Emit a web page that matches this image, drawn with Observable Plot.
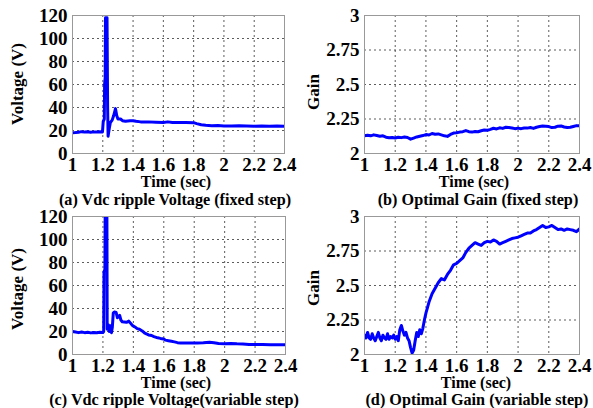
<!DOCTYPE html>
<html>
<head>
<meta charset="utf-8">
<script src="https://cdn.jsdelivr.net/npm/d3@7"></script>
<script src="https://cdn.jsdelivr.net/npm/@observablehq/plot@0.6"></script>
<style>
  html, body { margin: 0; padding: 0; background: #fff; }
  #page { position: relative; width: 593px; height: 408px; overflow: hidden; background: #fff;
          font-family: "Liberation Serif", "Times New Roman", serif; font-weight: bold; color: #000; }
  .panel { position: absolute; }
  .lbl { position: absolute; white-space: nowrap; font-size: 16px; line-height: 1; transform: translate(-50%, -50%); }
  .cap { position: absolute; white-space: nowrap; font-size: 16.2px; line-height: 1; transform: translate(-50%, -50%); }
  .ylbl { position: absolute; white-space: nowrap; font-size: 17px; line-height: 1; transform: translate(-50%, -50%) rotate(-90deg); }
</style>
</head>
<body>
<div id="page"></div>
<script>
// ---------- data ----------
const xTicks = [1, 1.2, 1.4, 1.6, 1.8, 2, 2.2, 2.4];
const voltTicks = [0, 20, 40, 60, 80, 100, 120];
const gainTicks = [2, 2.25, 2.5, 2.75, 3];

const timeA = [1.00,1.02,1.04,1.06,1.08,1.10,1.12,1.14,1.16,1.18,1.198,1.203,1.210,1.212,1.216,1.218,1.228,1.232,1.235,1.243,1.250,1.262,1.272,1.284,1.292,1.300,1.317,1.330,1.35,1.38,1.40,1.42,1.45,1.50,1.55,1.60,1.63,1.66,1.70,1.75,1.80,1.82,1.85,1.88,1.92,1.96,2.00,2.05,2.10,2.15,2.20,2.25,2.30,2.35,2.40];
const voltA = [18,18.2,18.5,19,18.6,18.9,18.5,18.8,18.6,18.9,18.8,28,30,60,66,118,118,40,15,22,27,29,33,39,33,30,30,28.5,28,28.5,28.5,28,27.5,27.5,27.2,27,27.5,27,27,27,26.8,26,25,24.5,24.2,24.3,24,24,24.2,24,23.8,24,23.8,24,23.7];

const timeB = [1.00,1.02,1.04,1.06,1.08,1.10,1.12,1.14,1.16,1.18,1.20,1.22,1.24,1.26,1.28,1.30,1.32,1.34,1.36,1.38,1.40,1.42,1.44,1.46,1.48,1.50,1.52,1.54,1.56,1.58,1.60,1.62,1.64,1.66,1.68,1.70,1.72,1.74,1.76,1.78,1.80,1.82,1.84,1.86,1.88,1.90,1.92,1.94,1.96,1.98,2.00,2.02,2.04,2.06,2.08,2.10,2.12,2.14,2.16,2.18,2.20,2.22,2.24,2.26,2.28,2.30,2.32,2.34,2.36,2.38,2.40];
const gainB = [2.128,2.132,2.128,2.135,2.130,2.125,2.128,2.118,2.114,2.116,2.112,2.118,2.115,2.120,2.116,2.104,2.112,2.120,2.125,2.130,2.137,2.134,2.145,2.140,2.142,2.135,2.128,2.124,2.138,2.148,2.150,2.155,2.158,2.166,2.158,2.155,2.160,2.158,2.165,2.170,2.168,2.175,2.183,2.178,2.186,2.182,2.190,2.188,2.185,2.180,2.184,2.180,2.185,2.184,2.188,2.182,2.190,2.196,2.200,2.198,2.195,2.188,2.190,2.198,2.200,2.192,2.188,2.190,2.196,2.202,2.200];

const timeC = [1.00,1.02,1.04,1.06,1.08,1.10,1.12,1.14,1.16,1.18,1.20,1.205,1.207,1.213,1.215,1.226,1.228,1.235,1.242,1.250,1.256,1.262,1.268,1.275,1.287,1.295,1.300,1.310,1.318,1.327,1.340,1.355,1.370,1.380,1.392,1.410,1.425,1.440,1.458,1.475,1.50,1.52,1.535,1.56,1.578,1.60,1.611,1.63,1.65,1.67,1.69,1.71,1.74,1.78,1.82,1.86,1.90,1.93,1.96,2.00,2.04,2.08,2.12,2.16,2.20,2.25,2.30,2.35,2.40];
const voltC = [20,19.5,19,19.5,19,19.3,18.8,19.2,18.9,19.3,19.2,20,72,74,130,130,22,26,20,25,19,24,36,37,36.5,32,33,34,30,28.5,28.3,28,29,27.5,25.5,24,22.5,22,20.5,18.5,17,16.5,15.5,14.5,14,13.5,12.5,12,11.5,11,10.3,10,10,10,10,10.2,10.6,10.2,9.6,9.4,9.6,9.3,9.2,8.8,8.7,8.6,8.5,8.4,8.4];

const timeD = [1.00,1.01,1.02,1.03,1.04,1.05,1.06,1.07,1.08,1.09,1.10,1.11,1.12,1.13,1.14,1.15,1.16,1.17,1.18,1.19,1.20,1.21,1.22,1.23,1.24,1.25,1.26,1.27,1.28,1.29,1.30,1.31,1.32,1.33,1.34,1.35,1.36,1.37,1.38,1.39,1.40,1.41,1.42,1.44,1.46,1.48,1.50,1.52,1.54,1.56,1.58,1.60,1.62,1.64,1.66,1.68,1.70,1.72,1.74,1.76,1.78,1.80,1.82,1.84,1.86,1.88,1.90,1.92,1.94,1.96,1.98,2.00,2.02,2.04,2.06,2.08,2.10,2.12,2.14,2.16,2.18,2.20,2.22,2.24,2.26,2.28,2.30,2.32,2.34,2.36,2.38,2.40];
const gainD = [2.14,2.12,2.16,2.12,2.11,2.15,2.12,2.10,2.13,2.16,2.12,2.10,2.14,2.12,2.11,2.15,2.11,2.13,2.12,2.14,2.11,2.13,2.10,2.18,2.21,2.17,2.14,2.16,2.12,2.10,2.05,2.01,2.03,2.10,2.16,2.13,2.18,2.15,2.19,2.25,2.30,2.34,2.38,2.44,2.48,2.52,2.55,2.54,2.58,2.61,2.65,2.66,2.68,2.70,2.74,2.77,2.79,2.81,2.80,2.79,2.81,2.82,2.815,2.83,2.82,2.80,2.81,2.82,2.83,2.84,2.845,2.85,2.86,2.87,2.88,2.88,2.895,2.905,2.92,2.935,2.92,2.925,2.935,2.92,2.905,2.91,2.90,2.91,2.905,2.90,2.89,2.91];

// ---------- drawing ----------
const page = document.getElementById("page");

function panel({left, top, width, marginLeft, marginRight, times, values, yDomain, yTicks}) {
  const data = times.map((t, i) => ({t, v: values[i]}));
  const xGrid = xTicks.slice(1, -1);
  const yGrid = yTicks.slice(1, -1);
  const chart = Plot.plot({
    width, height: 176,
    marginTop: 15, marginBottom: 23, marginLeft, marginRight,
    style: {fontFamily: '"Liberation Serif", "Times New Roman", serif', fontWeight: "bold", fontSize: "19px", background: "transparent", overflow: "visible"},
    x: {domain: [1, 2.4], ticks: xTicks, tickFormat: d => String(d), tickSize: 0, tickPadding: 4, label: null},
    y: {domain: yDomain, ticks: yTicks, tickFormat: d => String(d), tickSize: 0, tickPadding: 5, label: null},
    marks: [
      Plot.ruleX(xGrid, {stroke: "#333", strokeWidth: 1, strokeDasharray: "2,3", strokeOpacity: 0.8}),
      Plot.ruleY(yGrid, {stroke: "#333", strokeWidth: 1, strokeDasharray: "2,3", strokeOpacity: 0.8}),
      Plot.line(data, {x: "t", y: "v", stroke: "#0000ff", strokeWidth: 3, clip: true, curve: "linear"}),
      Plot.frame({stroke: "#999", strokeWidth: 1})
    ]
  });
  const div = document.createElement("div");
  div.className = "panel";
  div.style.left = left + "px";
  div.style.top = top + "px";
  div.appendChild(chart);
  page.appendChild(div);
}

function label(text, x, y, cls) {
  const d = document.createElement("div");
  d.className = cls || "lbl";
  d.textContent = text;
  d.style.left = x + "px";
  d.style.top = y + "px";
  page.appendChild(d);
}

panel({left: 0, top: 0, width: 296, marginLeft: 72, marginRight: 12, times: timeA, values: voltA, yDomain: [0, 120], yTicks: voltTicks});
panel({left: 296, top: 0, width: 297, marginLeft: 68, marginRight: 14, times: timeB, values: gainB, yDomain: [2, 3], yTicks: gainTicks});
panel({left: 0, top: 201, width: 296, marginLeft: 72, marginRight: 11, times: timeC, values: voltC, yDomain: [0, 120], yTicks: voltTicks});
panel({left: 296, top: 201, width: 297, marginLeft: 68, marginRight: 14, times: timeD, values: gainD, yDomain: [2, 3], yTicks: gainTicks});

label("Time (sec)", 176, 182);
label("Time (sec)", 474, 182);
label("Time (sec)", 176, 383);
label("Time (sec)", 476, 383);

label("(a) Vdc ripple Voltage (fixed step)", 175, 200, "cap");
label("(b) Optimal Gain (fixed step)", 478, 200, "cap");
label("(c) Vdc ripple Voltage(variable step)", 174, 399.5, "cap");
label("(d) Optimal Gain (variable step)", 477, 399.5, "cap");

label("Voltage (V)", 17, 84, "ylbl");
label("Gain", 313, 92, "ylbl");
label("Voltage (V)", 17, 289, "ylbl");
label("Gain", 313, 288, "ylbl");
</script>
</body>
</html>
